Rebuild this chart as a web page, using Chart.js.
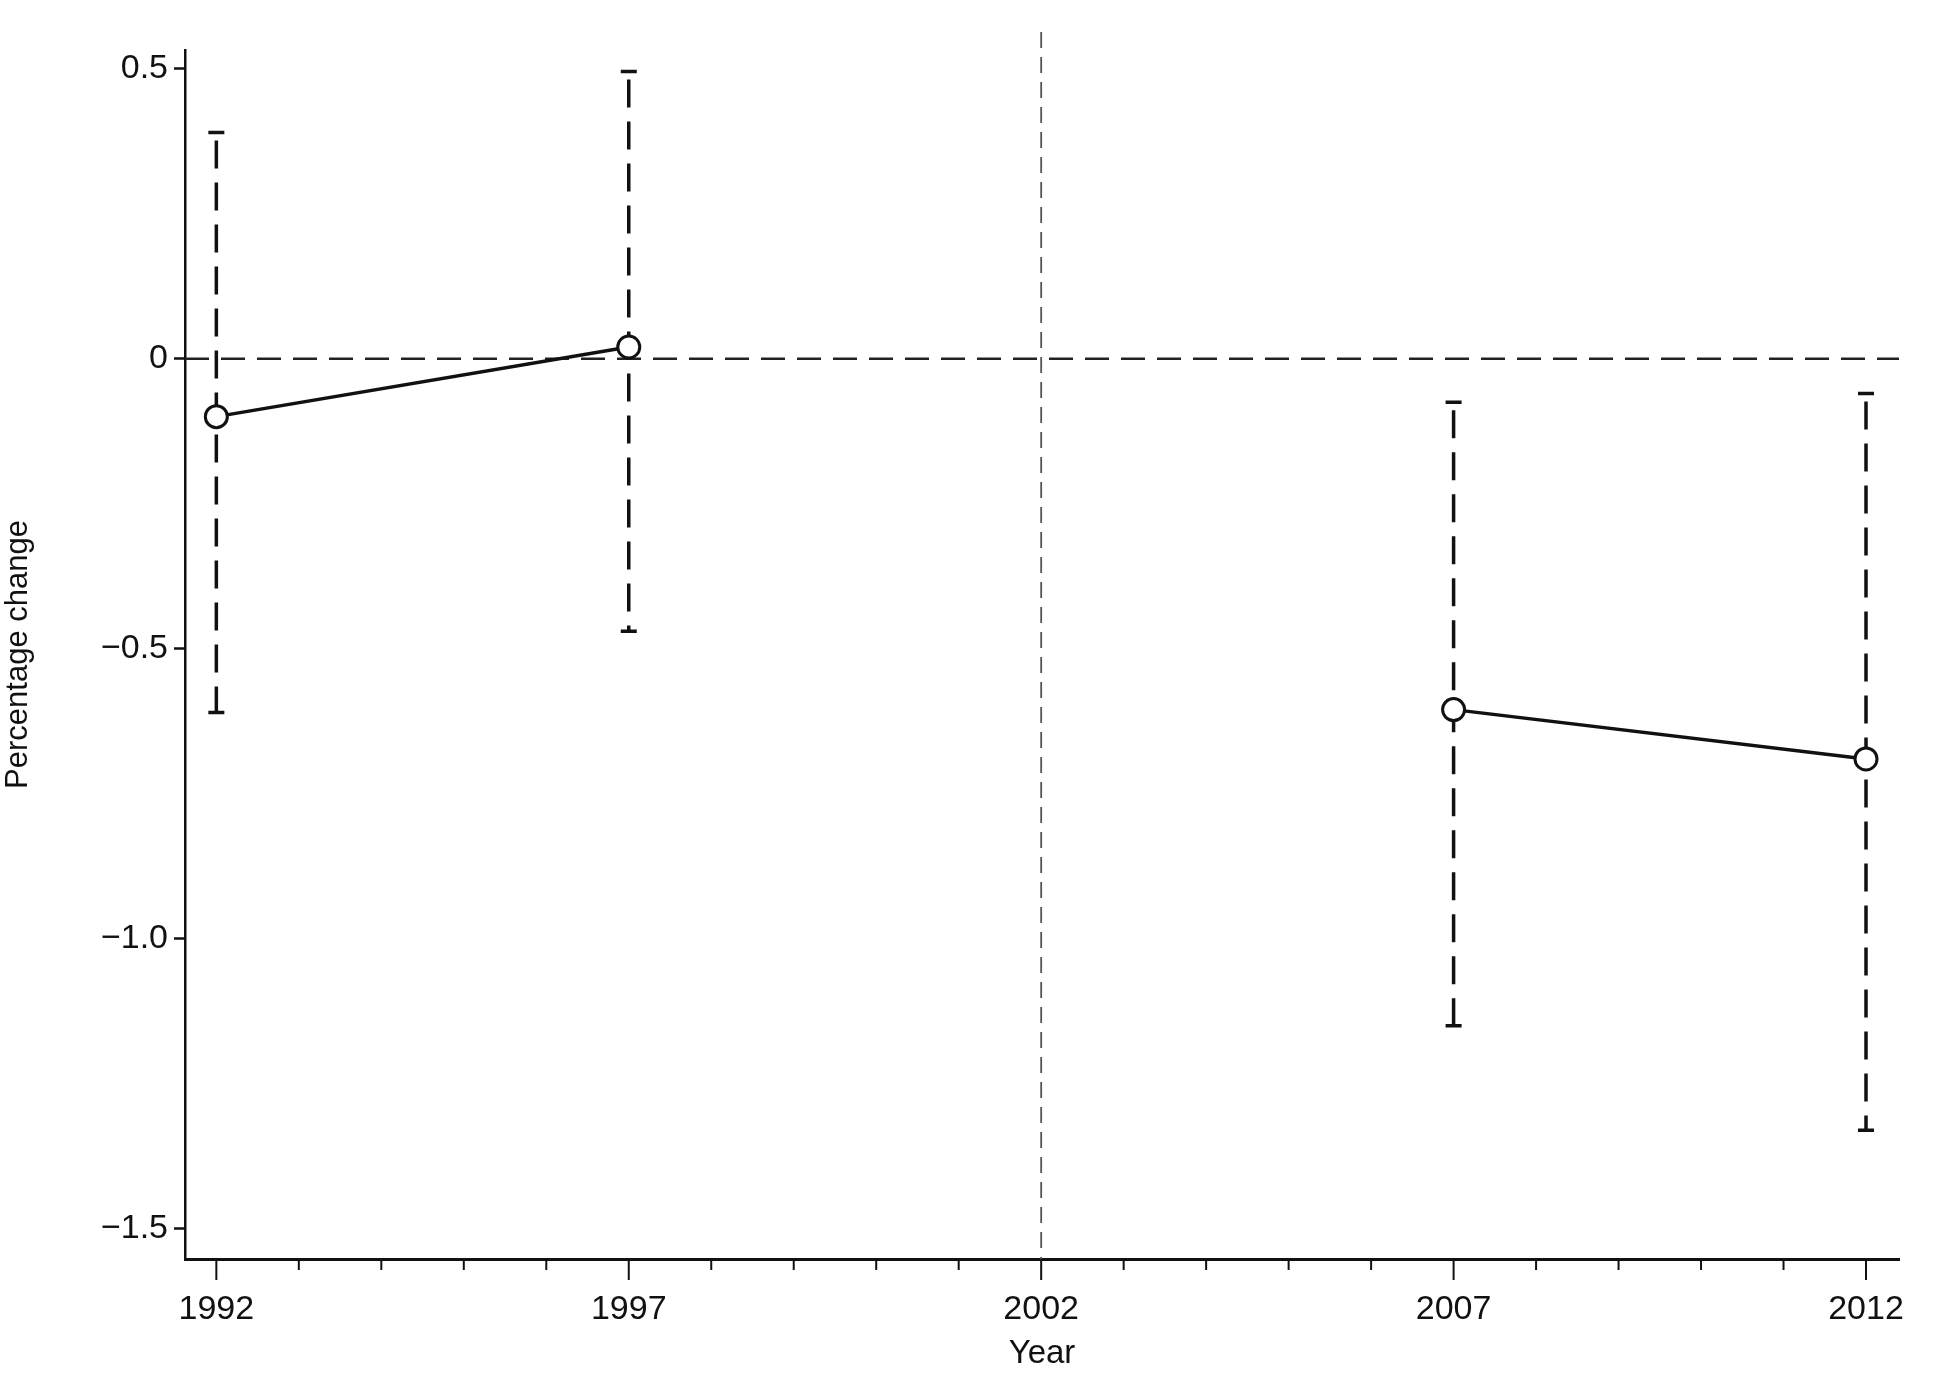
<!DOCTYPE html>
<html>
<head>
<meta charset="utf-8">
<script src="https://cdn.jsdelivr.net/npm/chart.js@4"></script>
<style>
  body { margin: 0; background: #fff; }
  #wrap { width: 1950px; height: 1378px; }
</style>
</head>
<body>
<div id="wrap"><canvas id="myChart"></canvas></div>
<script>
const years = [1992, 1997, 2002, 2007, 2012];
const estimates = [-0.1, 0.02, null, -0.605, -0.69];
const lowerCI = [-0.61, -0.47, null, -1.15, -1.33];
const upperCI = [0.39, 0.495, null, -0.075, -0.06];
const yTicks = [0.5, 0, -0.5, -1.0, -1.5];
const yTickLabels = ["0.5", "0", "\u22120.5", "\u22121.0", "\u22121.5"];
const refYear = 2002;

const FONT = "'Liberation Sans Narrow', 'Liberation Sans', Arial, sans-serif";

// error bars, reference lines and x ticks drawn with the chart's scales
const overlay = {
  id: "overlay",
  beforeDatasetsDraw(chart) {
    const c = chart.ctx;
    const x = chart.scales.x;
    const y = chart.scales.y;
    const area = chart.chartArea;
    c.save();
    // zero line
    c.strokeStyle = "#222";
    c.lineWidth = 2.5;
    c.setLineDash([24, 12]);
    c.beginPath();
    c.moveTo(area.left, y.getPixelForValue(0));
    c.lineTo(area.right, y.getPixelForValue(0));
    c.stroke();
    // vertical reference line
    c.strokeStyle = "#555";
    c.lineWidth = 1.8;
    c.setLineDash([16, 9]);
    c.beginPath();
    c.moveTo(x.getPixelForValue(refYear), area.top - 18);
    c.lineTo(x.getPixelForValue(refYear), area.bottom);
    c.stroke();
    // error bars
    c.strokeStyle = "#111";
    for (let i = 0; i < years.length; i++) {
      if (lowerCI[i] === null) continue;
      const px = x.getPixelForValue(years[i]);
      const lo = y.getPixelForValue(lowerCI[i]);
      const hi = y.getPixelForValue(upperCI[i]);
      c.lineWidth = 3.5;
      c.setLineDash([28, 14]);
      c.beginPath();
      c.moveTo(px, hi + 8);
      c.lineTo(px, lo);
      c.stroke();
      c.setLineDash([]);
      c.beginPath();
      c.moveTo(px - 8, hi);
      c.lineTo(px + 8, hi);
      c.moveTo(px - 8, lo);
      c.lineTo(px + 8, lo);
      c.stroke();
    }
    c.restore();
  },
  afterDraw(chart) {
    const c = chart.ctx;
    const x = chart.scales.x;
    const area = chart.chartArea;
    c.save();
    c.strokeStyle = "#111";
    c.lineWidth = 2;
    for (let yr = 1992; yr <= 2012; yr++) {
      const px = x.getPixelForValue(yr);
      const len = yr % 5 === 2 ? 21 : 11;
      c.beginPath();
      c.moveTo(px, area.bottom);
      c.lineTo(px, area.bottom + len);
      c.stroke();
    }
    c.restore();
  }
};

new Chart(document.getElementById("myChart"), {
  type: "line",
  data: {
    datasets: [{
      data: years.map((yr, i) => ({ x: yr, y: estimates[i] })),
      borderColor: "#111",
      borderWidth: 3.5,
      pointRadius: 11,
      pointBorderWidth: 3,
      pointBackgroundColor: "#fff",
      pointBorderColor: "#111",
      spanGaps: false,
      tension: 0
    }]
  },
  options: {
    responsive: true,
    maintainAspectRatio: false,
    animation: false,
    layout: { padding: { top: 50, right: 51 } },
    plugins: { legend: { display: false }, tooltip: { enabled: false } },
    scales: {
      x: {
        type: "linear",
        min: 1991.62,
        max: 2012.4,
        afterFit(s) { s.height = 119; },
        afterBuildTicks(s) { s.ticks = years.map(v => ({ value: v })); },
        ticks: {
          padding: 22,
          color: "#111",
          font: { family: FONT, size: 34 },
          callback: v => String(v)
        },
        grid: { display: false },
        border: { display: true, color: "#111", width: 3 },
        title: {
          display: true,
          text: "Year",
          color: "#111",
          padding: { top: 0 },
          font: { family: FONT, size: 33 }
        }
      },
      y: {
        min: -1.552,
        max: 0.532,
        afterFit(s) { s.width = 185; },
        afterBuildTicks(s) { s.ticks = yTicks.map(v => ({ value: v })); },
        ticks: {
          padding: 6,
          color: "#111",
          font: { family: FONT, size: 34 },
          callback: v => yTickLabels[yTicks.indexOf(v)]
        },
        grid: { drawOnChartArea: false, tickLength: 11, tickColor: "#111", tickWidth: 2.5 },
        border: { display: true, color: "#111", width: 2.5 },
        title: {
          display: true,
          text: "Percentage change",
          color: "#111",
          padding: { top: 0, bottom: 12 },
          font: { family: FONT, size: 31 }
        }
      }
    }
  },
  plugins: [overlay]
});
</script>
</body>
</html>
